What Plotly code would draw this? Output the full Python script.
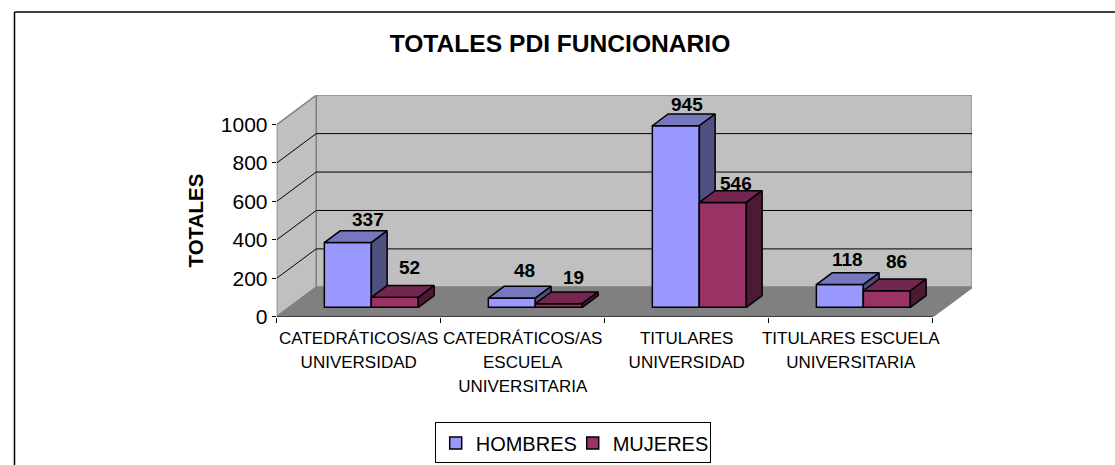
import plotly.graph_objects as go

categories = ["CATEDRÁTICOS/AS<br>UNIVERSIDAD", "CATEDRÁTICOS/AS<br>ESCUELA<br>UNIVERSITARIA",
              "TITULARES<br>UNIVERSIDAD", "TITULARES ESCUELA<br>UNIVERSITARIA"]
hombres = [337, 48, 945, 118]
mujeres = [52, 19, 546, 86]
y_ticks = [0, 200, 400, 600, 800, 1000]
title_text = "TOTALES PDI FUNCIONARIO"
y_title = "TOTALES"

W, H = 1115, 465
LAYOUT_H = 477
X0, X1, Y0, Y1 = 276.7, 972.0, 316.0, 95.0
CAT_PX = 164.0
VAL_PX = 0.1917
BACK_DX = 39.5 / CAT_PX
BACK_DY = 29.3 / VAL_PX
BAR_W = 47.0 / CAT_PX
F_NEAR, F_FAR = 0.32, 0.72


def proj(x, v, depth):
    return x + depth * BACK_DX, v + depth * BACK_DY


shapes = []


def poly(pts, fill, line="#808080", lw=1.5):
    path = "M " + " L ".join(f"{x},{y}" for x, y in pts) + " Z"
    shapes.append(dict(type="path", path=path, xref="x", yref="y", fillcolor=fill,
                       line=dict(color=line, width=lw), layer="below"))


def seg(a, b, color="black", lw=1):
    shapes.append(dict(type="line", xref="x", yref="y", x0=a[0], y0=a[1], x1=b[0], y1=b[1],
                       line=dict(color=color, width=lw), layer="below"))


n = len(categories)
top = y_ticks[-1]
poly([proj(0, 0, 1), proj(n, 0, 1), proj(n, top, 1), proj(0, top, 1)], "#C0C0C0")
poly([proj(0, 0, 0), proj(0, 0, 1), proj(0, top, 1), proj(0, top, 0)], "#C0C0C0")
poly([proj(0, 0, 0), proj(n, 0, 0), proj(n, 0, 1), proj(0, 0, 1)], "#808080")
for t in y_ticks[1:-1]:
    seg(proj(0, t, 0), proj(0, t, 1))
    seg(proj(0, t, 1), proj(n, t, 1))
seg((0, 0), (n, 0), "#222222", 1.2)

fig = go.Figure()


def add_series(name, values, front, topc, side, xa, ya, sign):
    xs = []
    for i, v in enumerate(values):
        xs.append(i + 0.5 + sign * BAR_W / 2 + F_NEAR * BACK_DX)
    fig.add_trace(go.Bar(name=name, x=xs, y=values, base=F_NEAR * BACK_DY, width=BAR_W,
                         marker=dict(color=front, line=dict(color="black", width=1.5)),
                         xaxis=xa, yaxis=ya, hoverinfo="skip"))
    for i, v in enumerate(values):
        l = i + 0.5 + sign * BAR_W / 2 - BAR_W / 2
        r = l + BAR_W
        t_pts = [proj(l, v, F_NEAR), proj(r, v, F_NEAR), proj(r, v, F_FAR), proj(l, v, F_FAR), proj(l, v, F_NEAR)]
        s_pts = [proj(r, 0, F_NEAR), proj(r, 0, F_FAR), proj(r, v, F_FAR), proj(r, v, F_NEAR), proj(r, 0, F_NEAR)]
        for pts, col in ((t_pts, topc), (s_pts, side)):
            fig.add_trace(go.Scatter(x=[p[0] for p in pts], y=[p[1] for p in pts], mode="lines",
                                     fill="toself", fillcolor=col, line=dict(color="black", width=1.5),
                                     showlegend=False, hoverinfo="skip", xaxis=xa, yaxis=ya))


add_series("HOMBRES", hombres, "#9999FF", "#7777C0", "#4F4F80", "x", "y", -1)
add_series("MUJERES", mujeres, "#993366", "#732650", "#4C1A33", "x2", "y2", 1)

# pixel nudges of the value labels relative to the bar's front-top centre
lab_dx = {"h": [20, 12.6, 10.7, 8], "m": [15, 15, 13.6, 10]}
lab_lift = {"h": [16, 20.5, 13.5, 18], "m": [22.7, 19, 11.3, 22]}
ann = []
for key, vals, sign in (("h", hombres, -1), ("m", mujeres, 1)):
    for i, v in enumerate(vals):
        x, y = proj(i + 0.5 + sign * BAR_W / 2, v, F_NEAR)
        ann.append(dict(x=x, y=y, xref="x", yref="y", text=f"<b>{v}</b>", showarrow=False,
                        xanchor="center", yanchor="bottom", xshift=lab_dx[key][i],
                        yshift=lab_lift[key][i] - 5, font=dict(size=19, color="black", family="Liberation Sans")))
ann.append(dict(x=195 / W, y=1 - 220 / H, xref="paper", yref="paper", text=f"<b>{y_title}</b>", textangle=-90,
                showarrow=False, font=dict(size=20.5, color="black"), xanchor="center", yanchor="middle"))

shapes.append(dict(type="line", xref="paper", yref="paper", x0=14.5 / W, x1=1, y0=1 - 12 / H, y1=1 - 12 / H,
                   line=dict(color="black", width=1.5)))
shapes.append(dict(type="line", xref="paper", yref="paper", x0=14.5 / W, x1=14.5 / W, y0=1 - 12 / H, y1=0,
                   line=dict(color="black", width=1.5)))

x_range = [0, (X1 - X0) / CAT_PX]
y_range = [0, (Y0 - Y1) / VAL_PX]
dom_x = [X0 / W, X1 / W]
dom_y = [1 - Y0 / H, 1 - Y1 / H]

fig.update_layout(
    width=W, height=LAYOUT_H, margin=dict(l=0, r=0, t=0, b=0), autosize=False,
    paper_bgcolor="white", plot_bgcolor="rgba(0,0,0,0)",
    font=dict(family="Liberation Sans, Arial, sans-serif", color="black"),
    title=dict(text=f"<b>{title_text}</b>", x=560 / W, xanchor="center", y=1 - 42 / H, yanchor="middle",
               font=dict(size=24.6, color="black")),
    barmode="overlay", shapes=shapes, annotations=ann,
    xaxis=dict(domain=dom_x, range=x_range, showgrid=False, zeroline=False, showline=False,
               tickmode="array", tickvals=[i + 0.5 for i in range(n)],
               ticktext=[f'<span style="font-size:17px">{c}</span>' for c in categories],
               tickfont=dict(size=18.46), ticks="", tickangle=0, ticklabelstandoff=8,
               minor=dict(tickmode="array", tickvals=list(range(n + 1)), ticks="outside", ticklen=5,
                          tickcolor="black", tickwidth=1)),
    yaxis=dict(domain=dom_y, range=y_range, showgrid=False, zeroline=False, showline=False,
               tickmode="array", tickvals=y_ticks, ticks="outside", ticklen=4, tickcolor="black",
               tickfont=dict(size=21)),
    xaxis2=dict(domain=dom_x, range=x_range, overlaying="x", visible=False, anchor="y2"),
    yaxis2=dict(domain=dom_y, range=y_range, overlaying="y", visible=False, anchor="x2"),
    legend=dict(orientation="h", x=434.7 / W, y=1 - 421.5 / H, xanchor="left", yanchor="top",
                entrywidth=92, entrywidthmode="pixels",
                bordercolor="black", borderwidth=1, bgcolor="white", font=dict(size=20, color="black")),
)
fig.write_html("out.html", config={"displayModeBar": False, "responsive": False},
               post_script="document.body.style.margin='0';document.documentElement.style.overflow='hidden';")
